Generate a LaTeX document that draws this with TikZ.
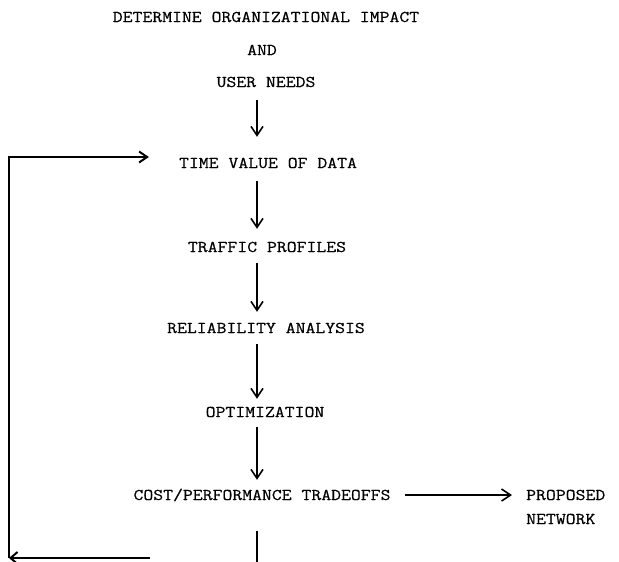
\documentclass[tikz,border=0pt]{standalone}
\usepackage{fontspec}
\setmonofont{Latin Modern Mono}[FakeStretch=1.17,FakeBold=0.6]
\usetikzlibrary{arrows.meta}
\begin{document}
\begin{tikzpicture}[x=1pt,y=-1pt,
  label/.style={font=\ttfamily\fontsize{16.4}{18}\selectfont, inner sep=0pt,
    text height=10pt, text depth=0pt},
  flow/.style={line width=1.6pt, -{Straight Barb[length=9pt,width=12pt,line width=1.6pt]}},
  loop/.style={line width=2.4pt},
  looptip/.style={line width=2.4pt, -{Straight Barb[length=8pt,width=11pt,line width=2pt]}}]
  \useasboundingbox (0,0) rectangle (619,562);

  % vertical axis of the flow arrows
  \coordinate (spine) at (257,0);

  \node[label] (title) at (266,17) {DETERMINE ORGANIZATIONAL IMPACT};
  \node[label] (and)   at (262,50) {AND};
  \node[label] (user)  at (266,82) {USER NEEDS};
  \node[label] (time)  at (268,163) {TIME VALUE OF DATA};
  \node[label] (traf)  at (267,247) {TRAFFIC PROFILES};
  \node[label] (rel)   at (266,328) {RELIABILITY ANALYSIS};
  \node[label] (opt)   at (265,412) {OPTIMIZATION};
  \node[label] (cost)  at (262,495) {COST/PERFORMANCE TRADEOFFS};
  \node[label, anchor=west] (prop) at (526,495) {PROPOSED};
  \node[label, anchor=west] (net)  at (526,519) {NETWORK};

  % main chain
  \draw[flow] ([yshift=-13pt]user.south -| spine) -- ([yshift=21pt]time.north -| spine);
  \draw[flow] ([yshift=-13pt]time.south -| spine) -- ([yshift=13pt]traf.north -| spine);
  \draw[flow] ([yshift=-11pt]traf.south -| spine) -- ([yshift=11pt]rel.north -| spine);
  \draw[flow] ([yshift=-11pt]rel.south -| spine) -- ([yshift=8pt]opt.north -| spine);
  \draw[flow] ([yshift=-10pt]opt.south -| spine) -- ([yshift=10pt]cost.north -| spine);
  \draw[flow] ([xshift=14pt]cost.east) -- ([xshift=-14pt]prop.west);

  % feedback loop
  \coordinate (drop) at (257,562);
  \coordinate (corner) at (9,558);
  \coordinate (turn) at (150,558);
  \draw[line width=1.8pt] ([yshift=-31pt]cost.south -| spine) -- (drop);
  \draw[loop, -{Straight Barb[length=7pt,width=12pt,line width=2pt]}] (turn) -- (corner);
  \draw[looptip] (corner) |- ([xshift=-30pt,yshift=6pt]time.west);
\end{tikzpicture}
\end{document}
